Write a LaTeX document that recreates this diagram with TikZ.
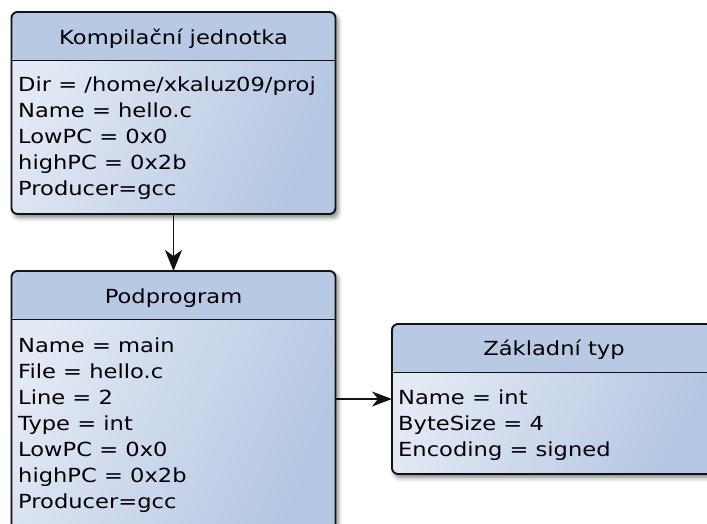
\documentclass[tikz,border=0pt]{standalone}
\usepackage{fontspec}
\setmainfont{DejaVu Sans}[FakeStretch=1.165]
\usetikzlibrary{shadows.blur,arrows.meta}
\definecolor{headcol}{RGB}{184,201,227}
\definecolor{bodylight}{RGB}{228,234,245}
\definecolor{bodydark}{RGB}{180,198,226}
\definecolor{edgecol}{RGB}{18,18,18}
\tikzset{
  entity/.style={draw=edgecol, line width=1.9pt, rounded corners=6pt,
    inner sep=0pt, outer sep=0pt, anchor=north west,
    left color=bodylight, right color=bodydark, shading angle=65,
    blur shadow={shadow xshift=2.5pt, shadow yshift=-3.5pt,
      shadow blur radius=4.5pt, shadow opacity=50},
    path picture={
      \fill[headcol] (path picture bounding box.north west)
        rectangle ([yshift=-48.5pt]path picture bounding box.north east);
      \draw[edgecol, line width=1.8pt]
        ([yshift=-48.5pt]path picture bounding box.north west)
        -- ([yshift=-48.5pt]path picture bounding box.north east);}},
  htext/.style={anchor=base, inner sep=0pt, text=black,
    font=\fontsize{19.4pt}{26pt}\selectfont},
  % the base anchor of a multi-line node sits on its last line
  btext/.style={anchor=base west, inner sep=0pt, align=left, text=black,
    font=\fontsize{19.4pt}{26pt}\selectfont},
  conn/.style={draw=edgecol, line width=1.7pt}
}
\begin{document}
\begin{tikzpicture}[x=1pt, y=-1pt]
  \useasboundingbox (0,0) rectangle (707,523);

  % entity boxes
  \node[entity, minimum width=324pt, minimum height=202pt] (cu) at (11.5,12) {};
  \node[entity, minimum width=324pt, minimum height=262pt] (sp) at (11.5,271) {};
  \node[entity, minimum width=324pt, minimum height=150pt] (bt) at (392,324) {};

  % headers
  \node[htext] (cuh) at (cu.north |- 0,44.3) {Kompilační jednotka};
  \node[htext] (sph) at (sp.north |- 0,303.3) {Podprogram};
  \node[htext] (bth) at (bt.north |- 0,355) {Základní typ};

  % attributes
  \node[btext] (cub) at (18,195.7) {Dir = /home/xkaluz09/proj\\Name = hello.c\\LowPC = 0x0\\highPC = 0x2b\\Producer=gcc};
  \node[btext] (spb) at (18,508) {Name = main\\File = hello.c\\Line = 2\\Type = int\\LowPC = 0x0\\highPC = 0x2b\\Producer=gcc};
  \node[btext] (btb) at (398,456.7) {Name = int\\ByteSize = 4\\Encoding = signed};

  % relations
  \draw[conn, -{Stealth[length=21pt, width=17pt, inset=6pt]}] (cu.south) -- (sp.north);
  \draw[conn, -{Stealth[length=20pt, width=15pt, inset=6pt]}] (sp.east |- bt.west) -- (bt.west);
\end{tikzpicture}
\end{document}
